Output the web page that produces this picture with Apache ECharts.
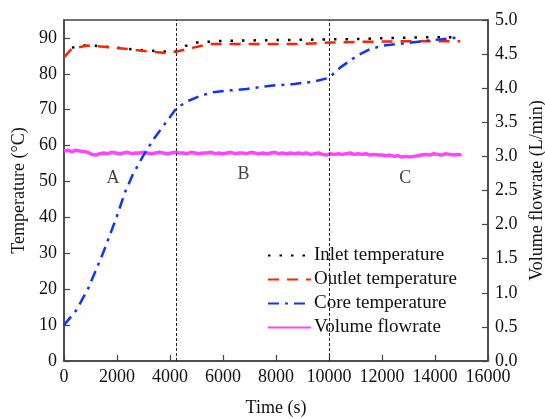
<!DOCTYPE html>
<html><head><meta charset="utf-8">
<script src="https://cdn.jsdelivr.net/npm/echarts@6/dist/echarts.min.js"></script>
<style>html,body{margin:0;padding:0;background:#fff}#c{width:545px;height:419px}</style>
</head><body><div id="c"></div>
<script>
// ---- data ----
const inletTime  = [300, 870, 1500, 2220, 3110, 3800, 4250, 4600, 5000, 6000, 7000, 8000, 9000, 10000, 11000, 12000, 13000, 14000, 14950];
const inletTemp  = [87.3, 88.0, 87.6, 87.1, 86.5, 86.2, 86.3, 87.8, 88.7, 89.2, 89.3, 89.4, 89.5, 89.6, 89.7, 89.9, 90.1, 90.2, 90.2];
const outletTime = [0, 280, 870, 1730, 2310, 2860, 3870, 4250, 4880, 5505, 7130, 8780, 10000, 11000, 12000, 13000, 14000, 14950];
const outletTemp = [84.6, 86.9, 87.9, 87.4, 87.0, 86.5, 85.8, 86.2, 87.3, 88.3, 88.3, 88.3, 88.7, 88.9, 89.0, 89.1, 89.1, 89.1];
const coreTime   = [0, 450, 900, 1470, 1980, 2300, 2600, 2975, 3400, 3800, 4250, 4700, 5125, 5620, 6300, 6890, 7800, 8700, 9400, 10000, 10430, 11050, 11550, 12050, 12600, 13190, 13945, 14700, 14950];
const coreTemp   = [10, 14, 20, 30, 40, 47, 52, 57, 62, 66, 70.5, 72.5, 73.8, 74.9, 75.4, 75.8, 76.7, 77.2, 77.8, 78.9, 81.8, 85.0, 86.9, 87.9, 88.3, 88.8, 89.4, 90.0, 90.2];
const flowStart = 0, flowStep = 150;
const flowRate = [
  3.08,3.09,3.07,3.09,3.08,3.07,
  3.06,3.03,3.02,3.04,
  3.05,3.04,3.06,3.05,3.04,3.05,3.06,3.04,3.05,3.05,
  3.06,3.05,3.04,3.05,3.06,3.05,3.04,3.05,3.06,3.05,
  3.05,3.04,3.06,3.05,3.04,3.05,3.05,3.06,3.04,3.05,
  3.04,3.05,3.06,3.04,3.05,3.05,3.04,3.06,3.05,3.04,
  3.05,3.04,3.05,3.06,3.04,3.05,3.04,3.05,3.04,3.05,
  3.04,3.05,3.03,3.04,3.05,3.03,3.02,3.04,3.03,3.04,
  3.03,3.04,3.05,3.03,3.04,3.03,3.04,3.02,3.03,3.02,
  3.02,3.01,3.02,3.00,3.01,2.99,3.00,2.99,3.00,3.01,
  3.02,3.03,3.02,3.04,3.03,3.02,3.04,3.03,3.02,3.03,
  3.02
];
const dividers = [4250, 10000];
const stageNames = ['A', 'B', 'C'];
const stageTime  = [1850, 6770, 12880];
const stageTemp  = [51, 52, 51];
const xTicks = {min: 0, max: 16000, interval: 2000};
const seriesNames = ['Inlet temperature', 'Outlet temperature', 'Core temperature', 'Volume flowrate'];

// ---- chart ----
const zip = (a, b) => a.map((t, i) => [t, b[i]]);
const FONT = 'Liberation Serif';
const axisCommon = {
  axisLine: {show: true, lineStyle: {color: '#444', width: 1.5}},
  axisTick: {show: true, inside: true, length: 6, lineStyle: {color: '#444', width: 1.2}},
  splitLine: {show: false},
  axisLabel: {color: '#111', fontFamily: FONT, fontSize: 18, margin: 7},
  nameTextStyle: {color: '#111', fontFamily: FONT, fontSize: 18},
};
const chart = echarts.init(document.getElementById('c'), null, {renderer: 'canvas'});
chart.setOption({
  animation: false,
  backgroundColor: '#fff',
  grid: {left: 64, right: 57, top: 20, bottom: 58, show: true, borderColor: '#444', borderWidth: 1.5,
         containLabel: false, outerBoundsMode: 'none'},
  legend: {
    orient: 'vertical', left: 262, top: 241, itemWidth: 43, itemHeight: 12, itemGap: 5,
    itemStyle: {color: 'rgba(0,0,0,0)', borderWidth: 0, opacity: 0},
    textStyle: {color: '#111', fontFamily: FONT, fontSize: 19, lineHeight: 19, padding: [0, 0, 0, -2]},
    data: seriesNames
  },
  xAxis: Object.assign({}, axisCommon, {
    type: 'value', min: xTicks.min, max: xTicks.max, interval: xTicks.interval,
    axisLabel: Object.assign({}, axisCommon.axisLabel, {formatter: v => String(v)}),
    name: 'Time (s)', nameLocation: 'middle', nameGap: 38
  }),
  yAxis: [
    Object.assign({}, axisCommon, {
      type: 'value', min: 0, max: 95, interval: 10,
      axisLabel: Object.assign({}, axisCommon.axisLabel, {showMaxLabel: false, formatter: v => String(v)}),
      name: 'Temperature (°C)', nameLocation: 'middle', nameGap: 35, nameRotate: 90
    }),
    Object.assign({}, axisCommon, {
      type: 'value', min: 0, max: 5, interval: 0.5, position: 'right',
      axisLabel: Object.assign({}, axisCommon.axisLabel, {formatter: v => v.toFixed(1)}),
      name: 'Volume flowrate (L/min)', nameLocation: 'middle', nameGap: 38, nameRotate: 90
    })
  ],
  series: [
    {name: seriesNames[0], type: 'line', showSymbol: false, symbol: 'none', yAxisIndex: 0,
     data: zip(inletTime, inletTemp), z: 3,
     lineStyle: {color: '#000', width: 2.5, type: [2.5, 9]}, itemStyle: {color: '#000'}},
    {name: seriesNames[1], type: 'line', showSymbol: false, symbol: 'none', yAxisIndex: 0,
     data: zip(outletTime, outletTemp), z: 4,
     lineStyle: {color: '#ff2200', width: 2.5, type: [11, 8]}, itemStyle: {color: '#ff2200'}},
    {name: seriesNames[2], type: 'line', showSymbol: false, symbol: 'none', yAxisIndex: 0,
     data: zip(coreTime, coreTemp), z: 4,
     lineStyle: {color: '#1133ff', width: 2.5, type: [11, 6, 3, 6]}, itemStyle: {color: '#1133ff'}},
    {name: seriesNames[3], type: 'line', showSymbol: false, symbol: 'none', yAxisIndex: 1,
     data: flowRate.map((v, i) => [flowStart + i * flowStep, v]), z: 2,
     lineStyle: {color: '#ff44ff', width: 3.5}, itemStyle: {color: '#ff44ff'},
     markLine: {
       silent: true, symbol: 'none', label: {show: false},
       lineStyle: {color: '#222', width: 1, type: [3, 2]},
       data: dividers.map(x => ({xAxis: x}))
     }},
    {name: 'stages', type: 'scatter', yAxisIndex: 0, symbolSize: 0,
     data: stageTime.map((t, i) => ({value: [t, stageTemp[i]], name: stageNames[i]})),
     label: {show: true, position: 'inside', formatter: p => p.name,
             color: '#111', fontFamily: FONT, fontSize: 18}}
  ]
});
</script></body></html>
